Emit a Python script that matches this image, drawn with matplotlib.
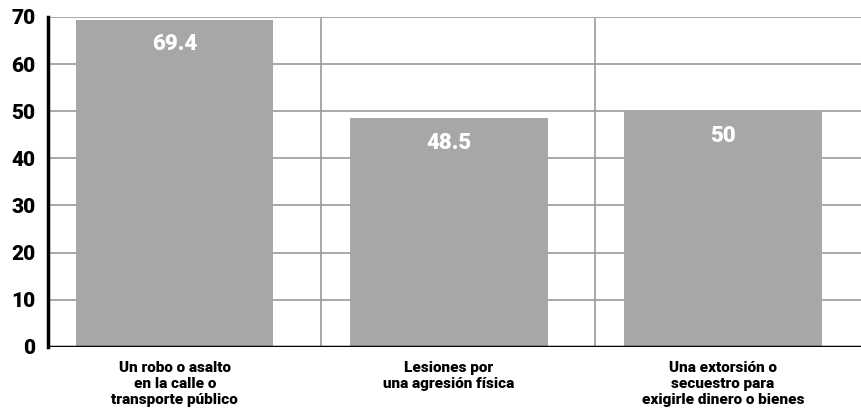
import numpy as np
import matplotlib.pyplot as plt

plt.rcParams['font.family'] = ['Roboto', 'DejaVu Sans']

categorias = ['Un robo o asalto\nen la calle o\ntransporte público',
              'Lesiones por\nuna agresión física',
              'Una extorsión o\nsecuestro para\nexigirle dinero o bienes']
valores = [69.4, 48.5, 50]
etiquetas = ['69.4', '48.5', '50']
yticks = [0, 10, 20, 30, 40, 50, 60, 70]

fig = plt.figure(figsize=(8.61, 4.2), dpi=100)
ax = fig.add_axes([0.0557, 0.174, 0.9443, 0.7857])

x = np.arange(len(valores))
ax.bar(x, valores, width=0.72, color='#a6a7a9', zorder=2)

for xi, v, t in zip(x, valores, etiquetas):
    ax.text(xi, v - 5.2, t, ha='center', va='center', color='white',
            fontsize=16, fontweight='heavy', zorder=3)

# lineas de la rejilla
for yv in yticks[1:]:
    ax.axhline(yv, color='#9a9a9a', linewidth=1.2, zorder=1)
for xv in [0.535, 1.535]:
    ax.plot([xv, xv], [0, 69.6], color='#9a9a9a', linewidth=1.2, zorder=1)
ax.axhline(0, color='black', linewidth=2.5, zorder=4)

ax.set_xlim(-0.463, 2.504)
ax.set_ylim(0, 70)
ax.set_yticks(yticks)
ax.set_yticklabels([str(t) for t in yticks], fontsize=15, fontweight='heavy')
ax.set_xticks(x)
ax.set_xticklabels(categorias, fontsize=11, fontweight='heavy', linespacing=1.2)
ax.tick_params(axis='both', length=0)
ax.tick_params(axis='y', pad=9)
ax.tick_params(axis='x', pad=10)

for s in ['top', 'right', 'bottom']:
    ax.spines[s].set_visible(False)
ax.spines['left'].set_linewidth(2.5)
ax.spines['left'].set_zorder(5)

fig.savefig('out.png', dpi=100)
